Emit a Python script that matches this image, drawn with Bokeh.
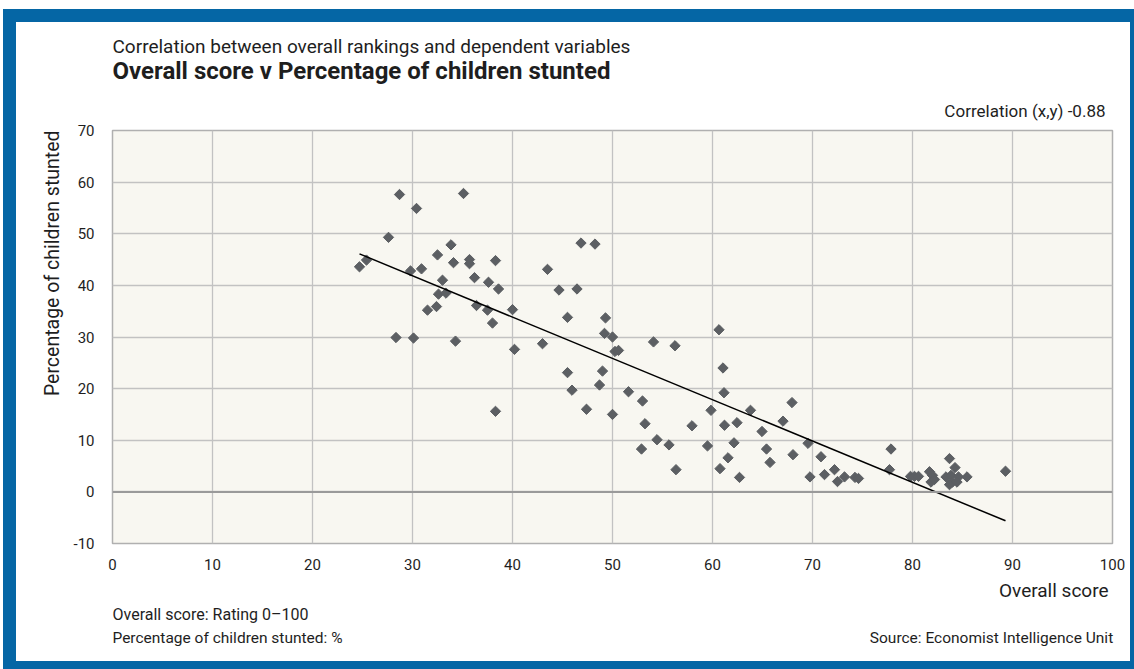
import math
from bokeh.plotting import figure
from bokeh.models import Range1d, FixedTicker, Span, ColumnDataSource, Title, LinearAxis
from bokeh.embed import file_html
from bokeh.resources import INLINE

# ---- data ----
overall_score = [
    24.7, 25.4, 28.7, 30.4, 27.6, 29.8, 30.9, 32.5, 33.85, 34.1,
    35.1, 35.7, 35.7, 33.0, 32.6, 33.35, 31.5, 32.4, 28.35, 30.1,
    34.3, 36.2, 38.3, 37.6, 38.6, 36.4, 37.5, 38.0, 40.0, 40.2,
    38.3, 43.0, 43.5, 44.65, 46.45, 46.85, 48.25, 45.5, 49.3, 49.2,
    50.0, 50.25, 50.6, 45.5, 49.0, 45.95, 48.7, 47.4, 50.0, 51.6,
    54.1, 56.25, 60.65, 61.05, 61.15, 53.0, 53.25, 52.9, 54.45, 55.65,
    56.35, 57.95, 59.85, 59.5, 61.2, 62.45, 62.15, 61.55, 60.75, 62.7,
    63.8, 64.95, 65.4, 65.75, 67.05, 67.95, 68.05, 69.55, 69.75, 70.85,
    71.2, 72.2, 72.5, 73.2, 74.25, 74.6, 77.85, 77.7, 79.8, 80.2,
    80.6, 81.7, 82.0, 81.85, 82.2, 83.7, 84.25, 83.35, 83.85, 84.0,
    83.7, 84.6, 84.45, 85.45, 89.3,
]
children_stunted = [
    43.6, 44.9, 57.6, 54.9, 49.3, 42.8, 43.2, 45.9, 47.85, 44.4,
    57.8, 45.0, 44.2, 41.0, 38.3, 38.5, 35.2, 35.9, 29.9, 29.8,
    29.2, 41.5, 44.8, 40.6, 39.3, 36.1, 35.2, 32.7, 35.3, 27.6,
    15.6, 28.7, 43.1, 39.1, 39.3, 48.2, 48.0, 33.8, 33.7, 30.7,
    30.0, 27.2, 27.4, 23.1, 23.4, 19.7, 20.7, 16.0, 15.0, 19.4,
    29.05, 28.3, 31.4, 24.0, 19.2, 17.6, 13.2, 8.3, 10.1, 9.1,
    4.3, 12.8, 15.8, 8.9, 12.9, 13.4, 9.5, 6.6, 4.5, 2.8,
    15.8, 11.7, 8.3, 5.7, 13.7, 17.3, 7.2, 9.4, 2.9, 6.8,
    3.35, 4.3, 2.0, 2.9, 2.8, 2.6, 8.3, 4.3, 3.0, 3.0,
    3.0, 3.9, 3.2, 1.9, 2.4, 6.45, 4.7, 2.9, 3.2, 1.9,
    1.4, 2.9, 1.9, 2.9, 4.0,
]
trend_x = [24.7, 89.3]
trend_y = [46.1, -5.6]
x_ticks = [0, 10, 20, 30, 40, 50, 60, 70, 80, 90, 100]
y_ticks = [-10, 0, 10, 20, 30, 40, 50, 60, 70]

subtitle = "Correlation between overall rankings and dependent variables"
title = "Overall score v Percentage of children stunted"
corr_text = "Correlation (x,y) -0.88"
y_label = "Percentage of children stunted"
x_label = "Overall score"
note1 = "Overall score: Rating 0\u2013100"
note2 = "Percentage of children stunted: %"
source = "Source: Economist Intelligence Unit"

FONT = "Roboto"
TXT = "#1e1e1e"

p = figure(
    width=1131, height=660, title=None,
    x_range=Range1d(0, 100), y_range=Range1d(-10, 70),
    output_backend="svg", toolbar_location=None,
    min_border_left=96, min_border_right=35,
    min_border_top=108, min_border_bottom=139,
)
p.styles = {
    "margin-left": "3px", "margin-top": "9px",
    "border-style": "solid", "border-color": "#0566A5",
    "border-width": "13px 4px 8px 13px",
}
p.border_fill_color = "white"
p.background_fill_color = "#F8F7F1"
p.outline_line_color = "#b0b0b0"
p.outline_line_width = 1.5

for ax in (p.xaxis, p.yaxis):
    ax.axis_line_color = None
    ax.major_tick_line_color = None
    ax.minor_tick_line_color = None
    ax.major_label_text_font = FONT
    ax.major_label_text_font_size = "15px"
    ax.major_label_text_color = TXT
p.xaxis.ticker = FixedTicker(ticks=x_ticks)
p.yaxis.ticker = FixedTicker(ticks=y_ticks)
p.yaxis.major_label_overrides = {t: str(t) for t in y_ticks}
p.xaxis.major_label_standoff = 9
p.yaxis.major_label_standoff = 12

p.xgrid.ticker = FixedTicker(ticks=x_ticks)
p.ygrid.ticker = FixedTicker(ticks=y_ticks)
for g in (p.xgrid, p.ygrid):
    g.grid_line_color = "#c2c2c2"
    g.grid_line_width = 1.3

p.add_layout(Span(location=0, dimension="width", line_color="#9a9a9a", line_width=2))

src = ColumnDataSource(dict(x=overall_score, y=children_stunted))
p.scatter("x", "y", source=src, marker="square", angle=math.pi / 4, size=7.3,
          fill_color="#5c5f63", line_color="#5c5f63")
p.line(trend_x, trend_y, line_color="black", line_width=1.5)


def title_obj(text, size, align, bold=False, standoff=0, offset=0):
    return Title(text=text, text_font=FONT, text_font_size=size, text_color=TXT,
                 align=align, text_font_style="bold" if bold else "normal",
                 standoff=standoff, offset=offset)

# above (nearest the frame first)
p.add_layout(title_obj(corr_text, "17px", "right", standoff=20, offset=7), "above")
p.add_layout(title_obj(title, "24px", "left", bold=True, standoff=7), "above")
p.add_layout(title_obj(subtitle, "19px", "left", standoff=-12), "above")

# left
p.add_layout(title_obj(y_label, "19.5px", "right", standoff=14), "left")

# below (nearest the frame first)
p.add_layout(title_obj(x_label, "19px", "right", standoff=8, offset=4), "below")
p.add_layout(title_obj(note1, "16px", "left", standoff=-5), "below")

note_ticks = [11.5, 87.9]
extra = LinearAxis(ticker=FixedTicker(ticks=note_ticks),
                   major_label_overrides={note_ticks[0]: note2, note_ticks[1]: source})
extra.axis_line_color = None
extra.major_tick_line_color = None
extra.minor_tick_line_color = None
extra.major_label_standoff = 1
extra.major_label_text_font = FONT
extra.major_label_text_font_size = "15.5px"
extra.major_label_text_color = TXT
p.add_layout(extra, "below")

open("out.html", "w").write(file_html(p, INLINE))
